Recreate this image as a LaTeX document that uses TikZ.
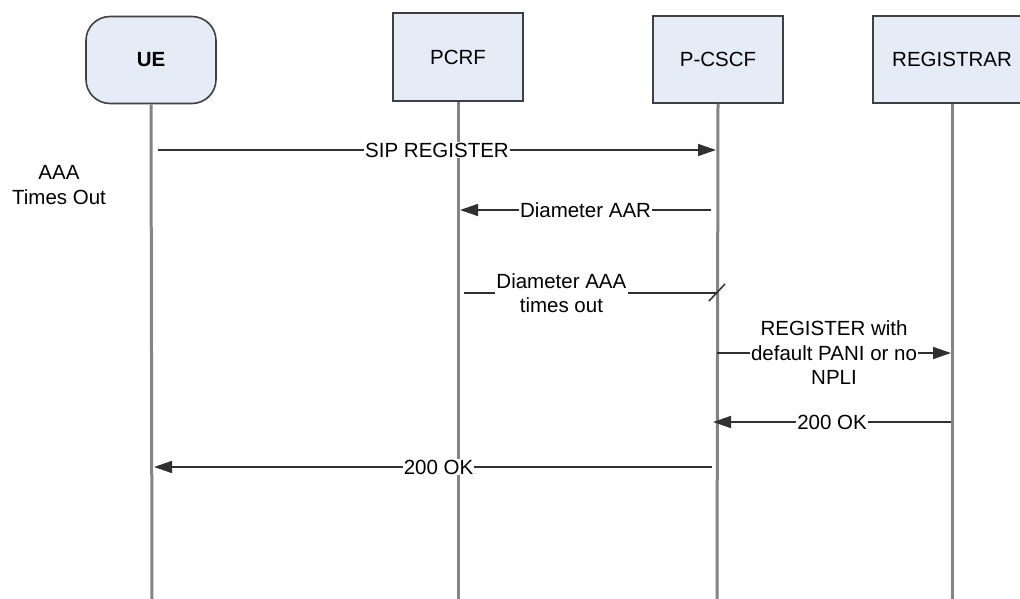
\documentclass[tikz,border=0pt]{standalone}
\usepackage{fontspec}
\setmainfont{Liberation Sans}
\usetikzlibrary{arrows.meta}
\definecolor{boxfill}{HTML}{E5ECF7}
\definecolor{boxline}{HTML}{404040}
\definecolor{lifegray}{HTML}{848484}
\definecolor{msgcol}{HTML}{303030}
\begin{document}
\begin{tikzpicture}[x=1pt,y=-1pt,
  every node/.style={font=\fontsize{20.5}{24.5}\selectfont},
  actor/.style={draw=boxline, fill=boxfill, line width=1.6pt, minimum width=130pt, minimum height=87pt, inner sep=0pt},
  life/.style={draw=lifegray, line width=3pt},
  msg/.style={draw=msgcol, line width=1.5pt, -{Triangle[length=18pt,width=12pt]}},
  plainmsg/.style={draw=msgcol, line width=1.5pt},
  lbl/.style={fill=white, inner sep=1pt, align=center}
]
\clip (0,0) rectangle (1020,599);
\fill[white] (0,0) rectangle (1020,599);

% lifelines
\coordinate (ueb) at (152,599);
\coordinate (pcrfb) at (458,599);
\coordinate (pcscfb) at (717,599);
\coordinate (regb) at (952,599);

\node[actor, rounded corners=24pt] (ue) at (151,60) {\textbf{UE}};
\node[actor, minimum height=88pt] (pcrf) at (458,57) {PCRF};
\node[actor] (pcscf) at (718,59.5) {P-CSCF};
\node[actor, minimum width=158pt] (reg) at (952,59.5) {REGISTRAR};

\draw[life] (ue.south) -- (ueb);
\draw[life] (pcrf.south) -- (pcrfb);
\draw[life] (pcscf.south) -- (pcscfb);
\draw[life] (reg.south) -- (regb);

% side note
\node[align=center] (note) at (59,185) {AAA\\Times Out};

% message end points
\coordinate (m1a) at (158,150);   \coordinate (m1b) at (716,150);
\coordinate (m2a) at (711,210);   \coordinate (m2b) at (460,210);
\coordinate (m3a) at (464,293);   \coordinate (m3b) at (717,293);
\coordinate (m4a) at (717,353);   \coordinate (m4b) at (951,353);
\coordinate (m5a) at (951,422);   \coordinate (m5b) at (713,422);
\coordinate (m6a) at (712,467);   \coordinate (m6b) at (154,467);

\draw[msg] (m1a) -- node[lbl] (l1) {SIP REGISTER} (m1b);
\draw[msg] (m2a) -- node[lbl] (l2) {Diameter AAR} (m2b);
\draw[plainmsg] (m3a) -- node[lbl, pos=0.385, inner sep=1.5pt] (l3) {Diameter AAA\\times out} (m3b);
\draw[msgcol, line width=1.5pt] (m3b) ++(-8,8) -- ++(16,-17);
\draw[msg] (m4a) -- node[lbl] (l4) {REGISTER with\\default PANI or no\\NPLI} (m4b);
\draw[msg] (m5a) -- node[lbl] (l5) {200 OK} (m5b);
\draw[msg] (m6a) -- node[lbl, pos=0.49] (l6) {200 OK} (m6b);
\end{tikzpicture}
\end{document}
